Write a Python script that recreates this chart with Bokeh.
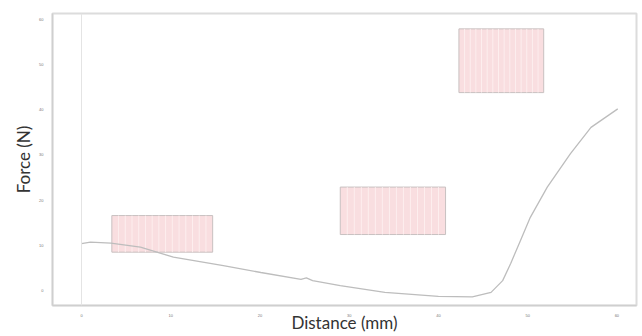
import numpy as np
from bokeh.plotting import figure
from bokeh.models import Span, Range1d, FixedTicker
from bokeh.embed import file_html
from bokeh.resources import INLINE

# Curve data (Distance mm, Force N)
distance = [0.0, 1.0, 3.3, 6.6, 10.3, 15.9, 20.1, 24.6, 25.2, 25.9, 29.0, 34.0,
            40.0, 43.8, 45.9, 47.2, 48.1, 49.2, 50.3, 52.2, 54.8, 57.1, 60.1]
force = [10.4, 10.7, 10.5, 9.6, 7.4, 5.5, 4.0, 2.5, 2.8, 2.2, 1.1, -0.4,
         -1.3, -1.4, -0.4, 2.2, 6.0, 11.1, 16.2, 22.9, 30.3, 36.1, 40.2]

# Inset boxes (left, right, bottom, top) in data units
box_left = [3.4, 29.0, 42.3]
box_right = [14.7, 40.8, 51.8]
box_bottom = [8.5, 12.4, 43.8]
box_top = [16.6, 22.9, 57.9]

x_ticks = [0, 10, 20, 30, 40, 50, 60]
y_ticks = [0, 10, 20, 30, 40, 50, 60]

p = figure(width=642, height=336, output_backend="svg", toolbar_location=None,
           x_range=Range1d(-3.25, 62.2), y_range=Range1d(-3.3, 61.3),
           min_border_left=52, min_border_right=6, min_border_top=13,
           min_border_bottom=31)

p.background_fill_color = "white"
p.border_fill_color = "white"
p.outline_line_color = "#dcdcdc"
p.outline_line_width = 2
p.xgrid.visible = False
p.ygrid.visible = False

p.add_layout(Span(location=0, dimension="height", line_color="#e4e4e4", line_width=1))

# inset boxes
p.quad(left=box_left, right=box_right, bottom=box_bottom, top=box_top,
       fill_color="#f8d8da", fill_alpha=0.85, line_color="#c8c0c0", line_width=1)
# faint vertical stripes inside boxes
xs, ys = [], []
for l, r, b, t in zip(box_left, box_right, box_bottom, box_top):
    for xv in np.linspace(l, r, 16)[1:-1]:
        xs.append([xv, xv])
        ys.append([b, t])
p.multi_line(xs, ys, line_color="#fdf0f0", line_width=1, line_alpha=0.9)

p.line(distance, force, line_color="#bdbdbd", line_width=1.3)

for ax, ticks in ((p.xaxis, x_ticks), (p.yaxis, y_ticks)):
    ax.ticker = FixedTicker(ticks=ticks)
    ax.major_tick_line_color = None
    ax.minor_tick_line_color = None
    ax.major_label_text_font_size = "4px"
    ax.major_label_text_color = "#777777"
    ax.axis_line_color = "#cfcfcf"
    ax.axis_line_width = 1.5
    ax.axis_label_text_font = "Lato"
    ax.axis_label_text_font_size = "17px"
    ax.axis_label_text_font_style = "normal"
    ax.axis_label_text_color = "#333333"
    ax.major_label_standoff = 3

p.xaxis.axis_label = "Distance (mm)"
p.yaxis.axis_label = "Force (N)"
p.xaxis.axis_label_standoff = -8
p.xaxis.major_label_standoff = 2
p.yaxis.axis_label_standoff = 2

open("out.html", "w").write(file_html(p, INLINE))
